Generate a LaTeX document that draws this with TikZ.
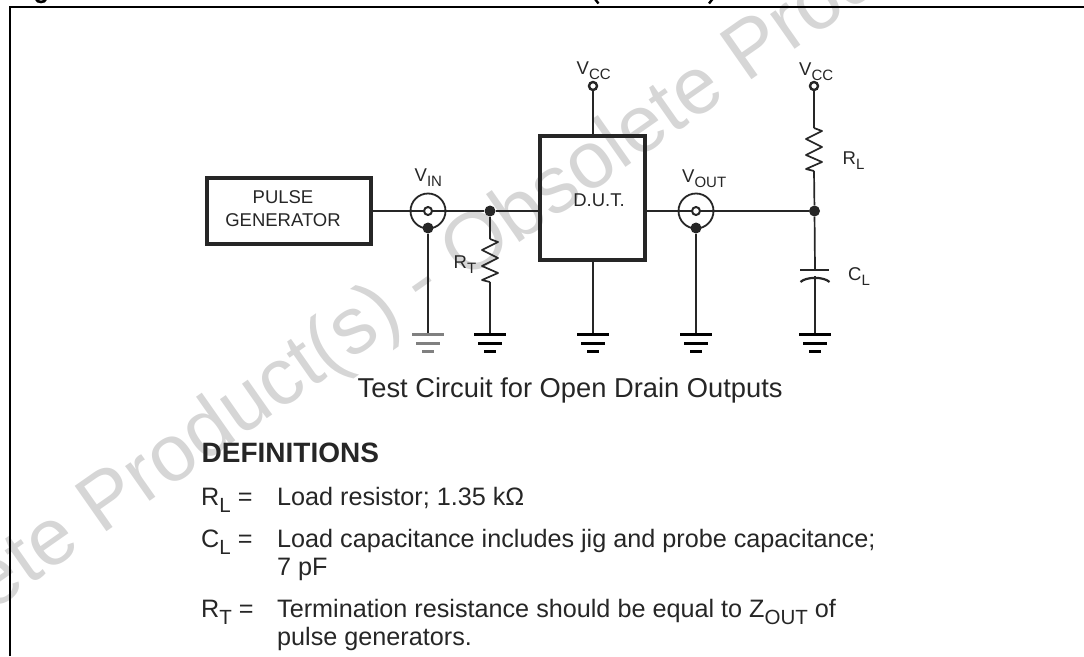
\documentclass[tikz,border=0pt]{standalone}
\usepackage{fontspec}
\setmainfont{Liberation Sans}
\newcommand{\lowsub}[1]{\raisebox{-0.28em}{#1}}
\newcommand{\subsm}[1]{\lowsub{\fontsize{15}{18}\selectfont #1}}
\newcommand{\subbig}[1]{\lowsub{\fontsize{20.5}{24}\selectfont #1}}
\definecolor{ink}{HTML}{262626}
\definecolor{wm}{HTML}{D6D6D6}
\tikzset{
  wire/.style={draw=ink,line width=1.7pt},
  thickbox/.style={draw=ink,line width=3.5pt,fill=none,minimum width=#1,inner sep=0pt},
  label/.style={text=ink,inner sep=0pt,font=\fontsize{18.5}{22}\selectfont},
  dot/.style={circle,fill=ink,draw=none,minimum size=11pt,inner sep=0pt},
  shell/.style={circle,draw=ink,line width=1.8pt,minimum size=35pt,inner sep=0pt},
  pin/.style={circle,draw=ink,fill=white,line width=2pt,minimum size=8pt,inner sep=0pt},
  term/.style={circle,draw=ink,fill=white,line width=2.4pt,minimum size=8pt,inner sep=0pt},
  bodytext/.style={text=ink,anchor=base west,inner sep=0pt,font=\fontsize{25.2}{30}\selectfont},
  resistor/.pic={\draw[wire,line join=round] (0,0)--(8,3)--(-8,11)--(8,19)--(-8,27)--(8,34)--(-8,41)--(0,43);},
  gndsym/.pic={\draw[draw=#1,line width=3pt] (-16,0)--(16,0) (-12,9)--(12,9) (-6,17)--(6,17);},
  gndsym/.default=ink
}
\begin{document}
\begin{tikzpicture}[x=1pt,y=-1pt]
\useasboundingbox (0,0) rectangle (1084,656);
\clip (0,0) rectangle (1084,656);
% watermark
\node[text=wm,inner sep=0pt,anchor=base west,rotate=35,font=\fontsize{80.5}{90}\selectfont] (wmark) at (-181,733) {Obsolete Product(s) - Obsolete Product(s)};
% clipped title remnants
\draw[black,line width=2.6pt] (36,-1) .. controls (37,3) and (45,3) .. (46,-1);
\draw[black,line width=2.4pt] (595,-1) -- (598.5,3.5);
\draw[black,line width=2.4pt] (712.5,-1) -- (709,3.5);
% frame
\coordinate (ftl) at (10,7);
\coordinate (ftr) at (1084,7);
\coordinate (fbl) at (10,656);
\draw[black,line width=2.2pt] (fbl)--(ftl)--(ftr);
% blocks
\node[thickbox=164pt,minimum height=66pt] (pg) at (289,211) {};
\node[label,align=center] (pgt) at (283,208.5) {PULSE\\[0.6pt]GENERATOR};
\node[thickbox=105pt,minimum height=124pt] (dut) at (592.5,198) {};
\node[label] (dutt) at (599,200.5) {D.U.T.};
% connectors' nodes
\node[shell] (vin) at (428,211) {};
\node[shell] (vout) at (696,211) {};
\node[dot] (vind) at (428,228) {};
\node[dot] (voutd) at (696,228) {};
\node[dot] (jt) at (490,211) {};
\node[dot] (jl) at (814.5,211) {};
\coordinate (rttop) at (490,239);
\coordinate (rtbot) at (490,282);
\coordinate (rltop) at (814,128);
\coordinate (rlbot) at (814,171);
\coordinate (g1) at (428,334);
\coordinate (g2) at (490,334);
\coordinate (g3) at (593,334);
\coordinate (g4) at (696,334);
\coordinate (g5) at (815,334);
\coordinate (cp1) at (815,270);
\coordinate (cp2) at (815,276);
\coordinate (dutn) at (593,136);
\coordinate (duts) at (593,260);
% wires
\draw[wire] (pg.east)--(vin.center);
\draw[wire] (vin.center)--(jt);
\draw[wire] (jt)--(jt-|dut.west);
\draw[wire] (dut.east|-vout)--(vout.center);
\draw[wire] (vout.center)--(jl);
\node[pin] (vinp) at (428,211) {};
\node[pin] (voutp) at (696,211) {};
\node[term] (vcc1) at (593,86) {};
\node[term] (vcc2) at (814,86) {};
\draw[wire] (vcc1)--(dutn);
\draw[wire] (duts)--(g3);
\draw[wire] (vcc2)--(rltop);
\draw[wire] (rlbot)--(jl);
\draw[wire] (jl)--(cp1);
\draw[wire] (cp2)--(g5);
\draw[wire] (jt)--(rttop);
\draw[wire] (rtbot)--(g2);
\draw[wire] (voutd)--(g4);
\draw[wire] (vind)--(g1);
\pic at (rttop) {resistor};
\pic at (rltop) {resistor};
\pic at (g1) {gndsym=gray};
\pic at (g2) {gndsym};
\pic at (g3) {gndsym};
\pic at (g4) {gndsym};
\pic at (g5) {gndsym};
% capacitor
\draw[draw=ink,line width=2.2pt] (800,270)--(829,270);
\draw[draw=ink,line width=2.2pt] (800.5,282) .. controls (806,276.5) and (824,276.5) .. (829.5,282);
% labels
\node[label,anchor=base west] (lvin) at (414.5,181.5) {V\subsm{IN}};
\node[label,anchor=base west] (lvo) at (682,182) {V\subsm{OUT}};
\node[label,anchor=base west] (lvc1) at (576.5,74) {V\subsm{CC}};
\node[label,anchor=base west] (lvc2) at (799,75) {V\subsm{CC}};
\node[label,anchor=base west] (lrl) at (842.5,164) {R\subsm{L}};
\node[label,anchor=base west] (lrt) at (453.5,268) {R\subsm{T}};
\node[label,anchor=base west] (lcl) at (848,280) {C\subsm{L}};
\node[bodytext,font=\fontsize{27.3}{30}\selectfont] (cap) at (357.5,397) {Test Circuit for Open Drain Outputs};
\node[bodytext,font=\bfseries\fontsize{28}{30}\selectfont] (defs) at (201.5,462) {DEFINITIONS};
\node[bodytext] (d1) at (201,505) {R\subbig{L} =};
\node[bodytext] (d1t) at (277,505) {Load resistor; 1.35 kΩ};
\node[bodytext] (d2) at (201,547) {C\subbig{L} =};
\node[bodytext] (d2t) at (277,547) {Load capacitance includes jig and probe capacitance;};
\node[bodytext] (d2u) at (277,575) {7 pF};
\node[bodytext] (d3) at (201,617) {R\subbig{T} =};
\node[bodytext] (d3t) at (277,617) {Termination resistance should be equal to Z\subbig{OUT} of};
\node[bodytext] (d3u) at (277,645) {pulse generators.};
\end{tikzpicture}
\end{document}
